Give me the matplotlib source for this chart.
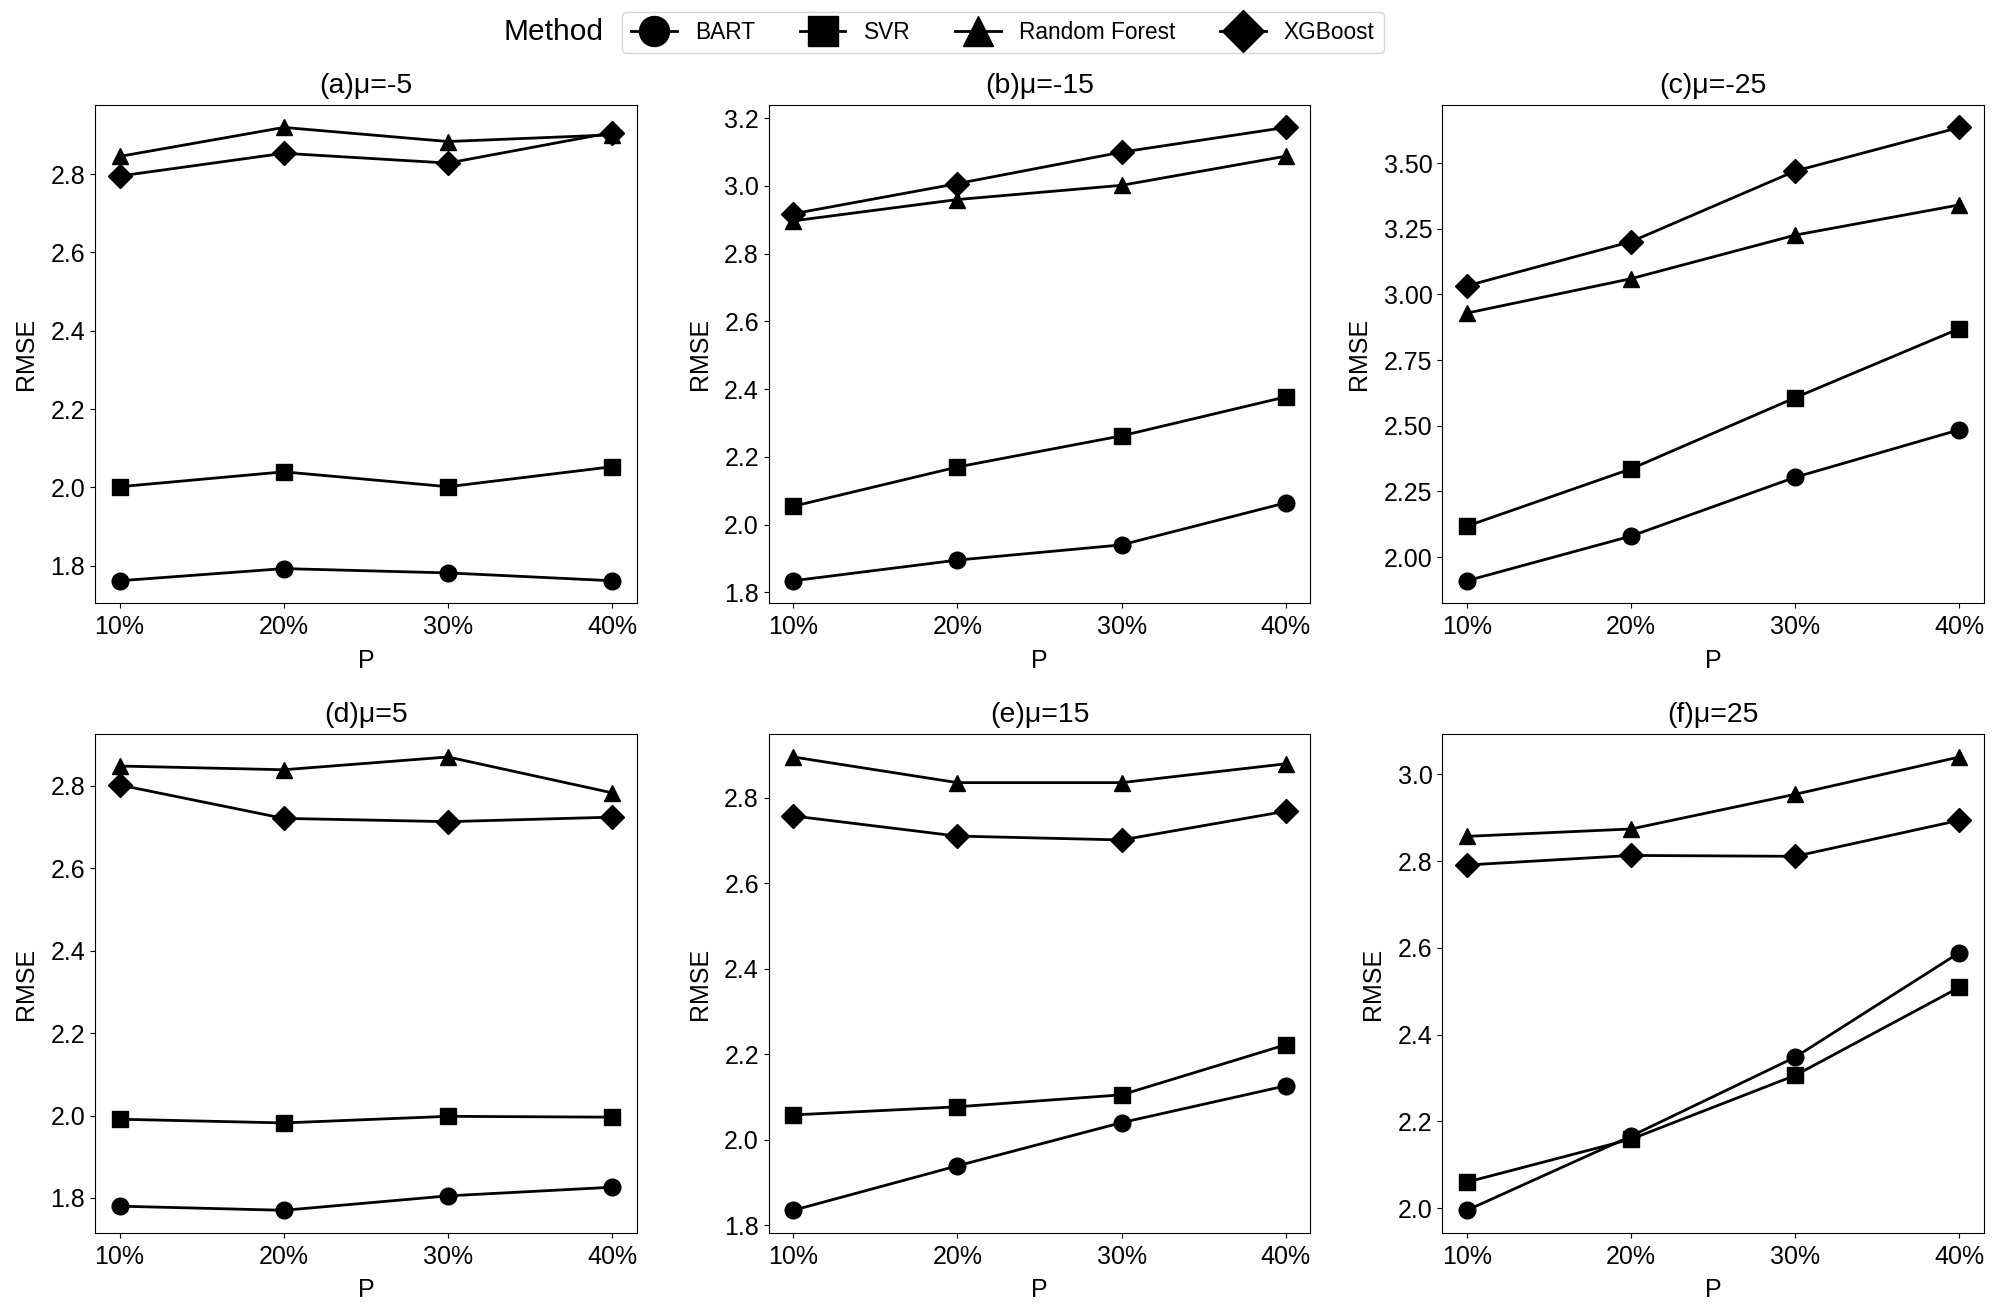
import matplotlib
matplotlib.use("Agg")
import matplotlib.pyplot as plt
from matplotlib.lines import Line2D

plt.rcParams['font.family'] = ['Liberation Sans', 'DejaVu Sans']

p_labels = ["10%", "20%", "30%", "40%"]
methods = ["BART", "SVR", "Random Forest", "XGBoost"]
markers = ["o", "s", "^", "D"]
titles = ["(a)μ=-5", "(b)μ=-15", "(c)μ=-25", "(d)μ=5", "(e)μ=15", "(f)μ=25"]

# RMSE values per panel: BART, SVR, Random Forest, XGBoost
a_bart = [1.762, 1.793, 1.782, 1.762]
a_svr = [2.002, 2.040, 2.002, 2.053]
a_rf = [2.845, 2.919, 2.883, 2.900]
a_xgb = [2.795, 2.853, 2.828, 2.906]

b_bart = [1.834, 1.895, 1.940, 2.064]
b_svr = [2.054, 2.170, 2.262, 2.377]
b_rf = [2.897, 2.960, 3.002, 3.088]
b_xgb = [2.918, 3.007, 3.100, 3.173]

c_bart = [1.910, 2.080, 2.304, 2.485]
c_svr = [2.118, 2.336, 2.607, 2.870]
c_rf = [2.929, 3.060, 3.226, 3.341]
c_xgb = [3.033, 3.201, 3.470, 3.636]

d_bart = [1.780, 1.770, 1.805, 1.826]
d_svr = [1.991, 1.982, 1.998, 1.996]
d_rf = [2.848, 2.839, 2.870, 2.783]
d_xgb = [2.802, 2.721, 2.713, 2.724]

e_bart = [1.835, 1.939, 2.040, 2.126]
e_svr = [2.058, 2.077, 2.105, 2.222]
e_rf = [2.895, 2.835, 2.835, 2.879]
e_xgb = [2.757, 2.710, 2.701, 2.768]

f_bart = [1.995, 2.166, 2.348, 2.589]
f_svr = [2.060, 2.159, 2.306, 2.509]
f_rf = [2.857, 2.874, 2.954, 3.040]
f_xgb = [2.791, 2.813, 2.811, 2.894]

panels = [
    [a_bart, a_svr, a_rf, a_xgb],
    [b_bart, b_svr, b_rf, b_xgb],
    [c_bart, c_svr, c_rf, c_xgb],
    [d_bart, d_svr, d_rf, d_xgb],
    [e_bart, e_svr, e_rf, e_xgb],
    [f_bart, f_svr, f_rf, f_xgb],
]

FS = 18
fig, axes = plt.subplots(2, 3, figsize=(20, 13.16), dpi=100)
fig.subplots_adjust(left=0.0475, right=0.992, top=0.9204, bottom=0.0631,
                    wspace=0.2435, hspace=0.2625)

x = list(range(len(p_labels)))
for ax, title, series in zip(axes.flat, titles, panels):
    for vals, m in zip(series, markers):
        ax.plot(x, vals, color="black", marker=m, markersize=12, linewidth=2.0)
    ax.set_title(title, fontsize=20.5, pad=8.5)
    ax.set_xticks(x)
    ax.set_xticklabels(p_labels)
    ax.set_xlabel("P", fontsize=FS, labelpad=7)
    ax.set_ylabel("RMSE", fontsize=FS, labelpad=9)
    ax.tick_params(labelsize=FS)
    ax.tick_params(axis="x", pad=5)

c_ticks = [2.00, 2.25, 2.50, 2.75, 3.00, 3.25, 3.50]
axes[0, 2].set_yticks(c_ticks)
axes[0, 2].set_yticklabels([f"{t:.2f}" for t in c_ticks])

handles = [Line2D([], [], color="black", marker=m, markersize=12, linewidth=2.0)
           for m in markers]
fig.legend(handles, methods, loc="center", bbox_to_anchor=(0.5015, 0.9753),
           ncol=4, fontsize=16.3, markerscale=1.8, frameon=True)
fig.text(0.302, 0.9755, "Method", fontsize=21.5, ha="right", va="center")

fig.savefig("out.png", dpi=100)
